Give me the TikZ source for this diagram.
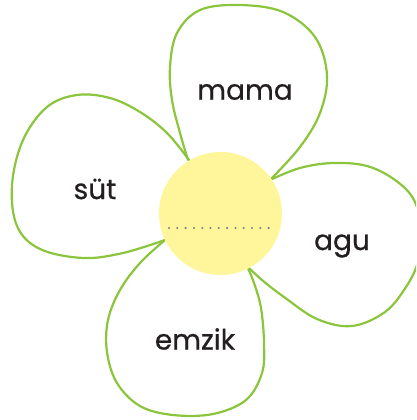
\documentclass[tikz,border=0pt]{standalone}
\usepackage{fontspec}
\setmainfont{Poppins}
\newfontfamily\wordfont{Poppins}[FakeBold=0.6]
\definecolor{petalgreen}{HTML}{8AC53C}
\definecolor{centeryellow}{HTML}{FFF59A}
\definecolor{dotgray}{HTML}{7E7E86}
\definecolor{textdark}{HTML}{231F20}
\begin{document}
\begin{tikzpicture}[x=1pt,y=-1pt,
  petal/.style={draw=petalgreen,line width=2.2pt,line cap=round,line join=round},
  word/.style={font=\wordfont\fontsize{28}{30}\selectfont,text=textdark,inner sep=0pt}]
\useasboundingbox (0,0) rectangle (416,420);
\clip (0,0) rectangle (416,420);
% top petal
\draw[petal] plot[smooth,tension=0.6] coordinates {(188,160) (180,133) (172,100) (170,67) (177,33) (200,10) (240,5) (283,12) (315,37) (327,75) (320,113) (300,147) (270,180)};
% left petal
\draw[petal] plot[smooth,tension=0.6] coordinates {(189,160) (167,133) (140,112) (110,98) (77,95) (47,107) (23,140) (12,185) (17,226) (40,249) (83,258) (123,253) (165,240)};
% right petal
\draw[petal] plot[smooth,tension=0.6] coordinates {(270,180) (300,168) (333,163) (367,166) (395,180) (414,200) (422,232) (418,262) (406,287) (385,312) (352,326) (317,319) (284,297) (262,280) (247,266)};
% bottom petal
\draw[petal] plot[smooth,tension=0.6] coordinates {(165,240) (140,263) (120,290) (108,320) (107,352) (117,383) (140,406) (173,415) (213,414) (246,400) (262,373) (264,343) (261,308) (254,283) (247,266)};
% center
\node[circle,fill=centeryellow,minimum size=123pt,inner sep=0pt] (c) at (220.5,213.5) {};
\coordinate (dl) at (169,228);
\coordinate (dr) at (269,228);
\draw[dotgray,line width=2.3pt,line cap=round,dash pattern=on 0pt off 8.3pt] (dl) -- (dr);
% words
\node[word] (mama) at (245,92) {mama};
\node[word] (sut) at (95,189) {süt};
\node[word] (agu) at (342,246) {agu};
\node[word] (emzik) at (195,339) {emzik};
\end{tikzpicture}
\end{document}
